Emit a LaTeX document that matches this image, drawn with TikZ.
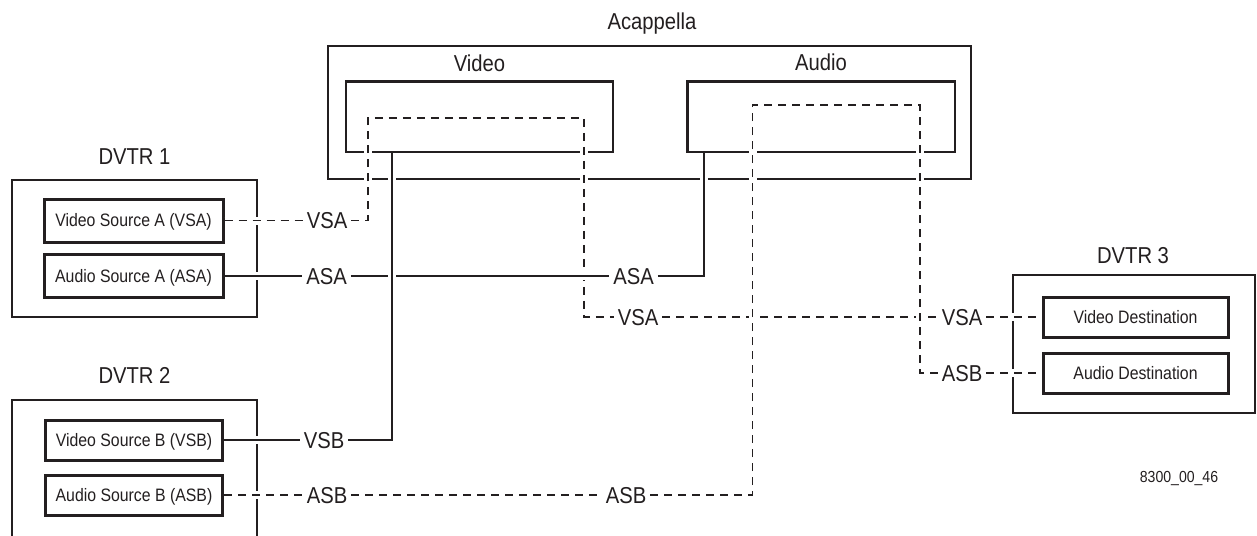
\documentclass[tikz,border=0pt]{standalone}
\usepackage{fontspec}
\setmainfont[FakeStretch=0.88]{Liberation Sans}
\usetikzlibrary{calc}
\definecolor{ink}{HTML}{231F20}
\begin{document}
\begin{tikzpicture}[x=1pt,y=-1pt,
  bigbox/.style={draw=ink, line width=2.5pt, rectangle, inner sep=0pt},
  srcbox/.style={draw=ink, line width=3pt, rectangle, inner sep=0pt, text=ink,
    font=\fontsize{18}{20}\selectfont, text height=12.9pt, text depth=0pt},
  lbl/.style={text=ink, font=\fontsize{23}{26}\selectfont, text height=16.5pt,
    text depth=0pt, inner xsep=4pt, inner ysep=0pt},
  ttl/.style={lbl},
  note/.style={text=ink, font=\fontsize{16}{18}\selectfont, text height=11.5pt, text depth=0pt, inner sep=0pt},
  wire/.style={draw=ink, line width=1.6pt,
    preaction={draw=white, line width=8pt, solid}},
  dwire/.style={wire, dash pattern=on 8pt off 6pt}
]
\clip (0,0) rectangle (1257,535);
\fill[white] (0,0) rectangle (1257,535);

% titles
\node[ttl] (tAca) at (652,21) {Acappella};
\node[ttl] (tVid) at (479.5,63) {Video};
\node[ttl] (tAud) at (821,62) {Audio};
\node[ttl] (tD1) at (134.5,156) {DVTR 1};
\node[ttl] (tD2) at (134.5,375) {DVTR 2};
\node[ttl] (tD3) at (1133,255) {DVTR 3};
\node[note] (num) at (1179,477) {8300\_00\_46};

% frames
\node[bigbox, minimum width=643pt, minimum height=133pt] (aca) at (649.5,112.5) {};
\node[bigbox, minimum width=267pt, minimum height=70.5pt] (vbox) at (479.5,116.75) {};
\node[bigbox, minimum width=267.5pt, minimum height=70.5pt] (abox) at (821.25,116.75) {};
\node[bigbox, minimum width=245pt, minimum height=137pt] (d1) at (134.5,248.5) {};
\node[bigbox, minimum width=245pt, minimum height=200pt] (d2) at (134.5,500) {};
\node[bigbox, minimum width=242pt, minimum height=138pt] (d3) at (1134,344) {};

% source / destination boxes
\node[srcbox, minimum width=179pt, minimum height=43pt] (vsaA) at (133.5,220.5) {Video Source A (VSA)};
\node[srcbox, minimum width=179pt, minimum height=43pt] (asaA) at (133.5,276) {Audio Source A (ASA)};
\node[srcbox, minimum width=177pt, minimum height=40pt] (vsbB) at (134,440) {Video Source B (VSB)};
\node[srcbox, minimum width=177pt, minimum height=40pt] (asbB) at (134,495) {Audio Source B (ASB)};
\node[srcbox, minimum width=185pt, minimum height=40pt] (vdest) at (1135.5,317) {Video Destination};
\node[srcbox, minimum width=185pt, minimum height=40pt] (adest) at (1135.5,373) {Audio Destination};

% connector labels
\node[lbl] (lVSA1) at (327,220.5) {VSA};
\node[lbl] (lASA1) at (326.5,276) {ASA};
\node[lbl] (lASA2) at (633.5,276) {ASA};
\node[lbl] (lVSA2) at (638,317) {VSA};
\node[lbl] (lVSA3) at (962,317) {VSA};
\node[lbl] (lASB3) at (962,373) {ASB};
\node[lbl] (lVSB1) at (324,440) {VSB};
\node[lbl] (lASB1) at (327,495) {ASB};
\node[lbl] (lASB2) at (626,495) {ASB};

% corner coordinates
\coordinate (vdTL) at (368,118);
\coordinate (vdTR) at (584,118);
\coordinate (adTL) at (752.5,105);
\coordinate (adTR) at (920,105);
\coordinate (vtap) at (392,0);
\coordinate (atap) at (704,0);

% VSA: DVTR1 -> video -> DVTR3
\draw[dwire] (vsaA.east) -- (lVSA1.west);
\draw[dwire] (lVSA1.east) -| (vdTL) -- (vdTR) |- (lVSA2.west);
\draw[dwire] (lVSA2.east) -- (lVSA3.west);
\draw[dwire] (lVSA3.east) -- (vdest.west);

% ASA: DVTR1 -> audio
\draw[wire] (asaA.east) -- (lASA1.west);
\draw[wire] (lASA1.east) -- (lASA2.west);
\draw[wire] (lASA2.east) -| (abox.south -| atap);

% VSB: DVTR2 -> video
\draw[wire] (vsbB.east) -- (lVSB1.west);
\draw[wire] (lVSB1.east) -| (vbox.south -| vtap);

% ASB: DVTR2 -> audio -> DVTR3
\draw[dwire] (asbB.east) -- (lASB1.west);
\draw[dwire] (lASB1.east) -- (lASB2.west);
\draw[dwire] (lASB2.east) -| (adTL) -- (adTR) |- (lASB3.west);
\draw[dwire] (lASB3.east) -- (adest.west);
\end{tikzpicture}
\end{document}
